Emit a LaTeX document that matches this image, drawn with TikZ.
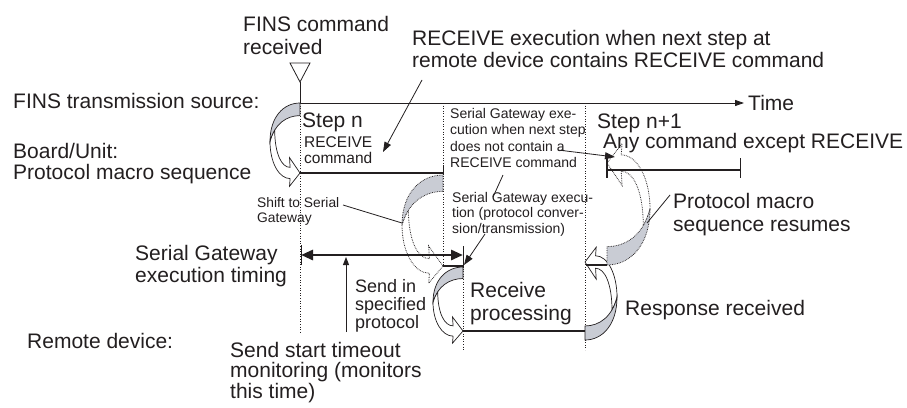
\documentclass[tikz,border=0pt]{standalone}
\usepackage{fontspec}
\setmainfont{Liberation Sans}
\usetikzlibrary{arrows.meta}
\definecolor{ribbongray}{RGB}{201,204,212}
\definecolor{ink}{RGB}{35,31,32}
% ribbon-like curved block arrow in local frame: start at (0,0), bulge to x=-1, tip at (0,1)
\newcommand{\ribbonshape}[1]{%
  \path[ribbonline,#1,fill=white] (-1,0.55) .. controls (-1,0.85) and (-0.7,1.08) .. (-0.33,1.08)
     -- (-0.35,1.19) -- (0,1) -- (-0.35,0.78) -- (-0.33,0.92)
     .. controls (-0.62,0.92) and (-0.84,0.72) .. (-0.844,0.387)
     .. controls (-0.909,0.433) and (-0.9625,0.4875) .. (-1,0.55) -- cycle;
  \path[ribbonline,#1,fill=ribbongray] (0,0) .. controls (-0.55,0) and (-1,0.2) .. (-1,0.55)
     .. controls (-0.85,0.3) and (-0.45,0.18) .. (0,0.18) -- cycle;
}
\begin{document}
\begin{tikzpicture}[x=1pt,y=-1pt,
  txt/.style={inner sep=0pt, anchor=base west, align=left, text=ink},
  big/.style={txt, font=\fontsize{21}{22}\selectfont},
  mid/.style={txt, font=\fontsize{15.5}{16}\selectfont},
  small/.style={txt, font=\fontsize{14}{16.5}\selectfont},
  ribbonline/.style={draw=ink, line width=0.7pt},
  dotline/.style={densely dotted, line width=0.8pt},
  guide/.style={draw=ink, dotted, line width=0.6pt},
  thickline/.style={draw=ink, line width=2.6pt},
  leader/.style={draw=ink, line width=0.8pt},
  leadarrow/.style={leader, -{Triangle[length=10pt,width=7pt]}},
]
\fill[white] (0,0) rectangle (907,407);
\useasboundingbox (0,0) rectangle (907,407);

% coordinates
\coordinate (t0) at (300,103);
\coordinate (tend) at (744,103);
\coordinate (trA) at (290,63);
\coordinate (trB) at (310,63);
\coordinate (trC) at (300,82);

% dotted guides
\draw[guide] (300,103) -- (300,332);
\draw[guide] (443,103) -- (443,266);
\draw[guide] (463,266) -- (463,350);
\draw[guide] (585,103) -- (585,350);

% triangle marker and time axis
\draw[ink, line width=0.8pt, fill=white] (trA) -- (trB) -- (trC) -- cycle;
\draw[ink, line width=0.8pt] (trC) -- (t0);
\draw[ink, line width=0.9pt, -{Triangle[length=9pt,width=6pt]}] (t0) -- (tend);

% ribbon arrows
\begin{scope}[shift={(300,103)}, xscale=30, yscale=70]
  \ribbonshape{}
\end{scope}
\begin{scope}[shift={(443,175)}, xscale=41, yscale=91]
  \ribbonshape{dotline}
\end{scope}
\begin{scope}[shift={(463,267)}, xscale=30, yscale=64]
  \ribbonshape{}
\end{scope}
\begin{scope}[shift={(585,340)}, xscale=-32, yscale=-78]
  \ribbonshape{}
\end{scope}
\begin{scope}[shift={(607,265)}, xscale=-43, yscale=-102]
  \ribbonshape{dotline}
\end{scope}

% Board/Unit step n line
\coordinate (bl0) at (300,173);
\coordinate (bl1) at (443,173);
\draw[thickline] (bl0) -- (bl1);
\draw[ink, line width=1pt] (443,166) -- (443,175);

% Step n+1 line
\coordinate (sn0) at (607,170);
\coordinate (sn1) at (740,170);
\draw[ink, line width=1.6pt] (607,158) -- (607,178);
\draw[thickline] (sn0) -- (sn1);
\draw[ink, line width=1pt] (740,158) -- (740,178);

% Serial gateway execution timing double arrow
\coordinate (sg0) at (301,255);
\coordinate (sg1) at (463,255);
\draw[ink, line width=1pt] (301,245) -- (301,265);
\draw[ink, line width=1pt] (463,246) -- (463,268);
\draw[ink, line width=2.8pt, {Triangle[length=12pt,width=10pt]}-{Triangle[length=12pt,width=10pt]}] (sg0) -- (sg1);

% short serial lines
\draw[thickline] (443,266) -- (463,266);
\draw[thickline] (586,265) -- (607,265);

% remote device line
\coordinate (rd0) at (463,331);
\coordinate (rd1) at (585,331);
\draw[thickline] (rd0) -- (rd1);

% send start timeout arrow
\coordinate (va0) at (346,332);
\coordinate (va1) at (346,257);
\draw[ink, line width=1pt, -{Triangle[length=8pt,width=6pt]}] (va0) -- (va1);

% texts (anchor = baseline of the last line)
\node[big] (fins) at (243,54.5) {FINS command\\[1.5pt]received};
\node[big] (recexec) at (412,67) {RECEIVE execution when next step at\\remote device contains RECEIVE command};
\node[big] (src) at (13,108) {FINS transmission source:};
\node[big] (time) at (748,110) {Time};
\node[big] (stepn) at (302,127) {Step n};
\node[mid] (reccmd) at (304,163) {RECEIVE\\command};
\node[big, font=\fontsize{21}{21}\selectfont] (board) at (13,179) {Board/Unit:\\Protocol macro sequence};
\node[small] (note1) at (450,167.5) {Serial Gateway exe-\\cution when next step\\does not contain a\\RECEIVE command};
\node[big] (stepn1) at (597,128) {Step n+1};
\node[big] (anycmd) at (603,148) {Any command except RECEIVE};
\node[small, font=\fontsize{13.8}{15}\selectfont] (shift) at (257,222) {Shift to Serial\\Gateway};
\node[small, font=\fontsize{14}{15.5}\selectfont] (note2) at (452,233) {Serial Gateway execu-\\tion (protocol conver-\\sion/transmission)};
\node[big] (timing) at (135,282) {Serial Gateway\\execution timing};
\node[txt, font=\fontsize{18}{18}\selectfont] (sendin) at (355,328) {Send in\\specified\\protocol};
\node[big, font=\fontsize{21}{23}\selectfont] (recproc) at (470,320) {Receive\\processing};
\node[big] (remote) at (27,348) {Remote device:};
\node[big, font=\fontsize{21}{20.5}\selectfont] (timeout) at (230,398) {Send start timeout\\monitoring (monitors\\this time)};
\node[big] (resp) at (625,315) {Response received};
\node[big, font=\fontsize{21}{23}\selectfont] (resumes) at (673,231) {Protocol macro\\sequence resumes};

% leaders
\coordinate (l1a) at (422,80);
\coordinate (l1b) at (383,152);
\draw[leadarrow] (l1a) -- (l1b);
\coordinate (l2a) at (558,150);
\coordinate (l2b) at (615,157);
\draw[leadarrow] (l2a) -- (l2b);
\coordinate (l3a) at (503,175);
\coordinate (l3b) at (493,197);
\draw[leader] (l3a) -- (l3b);
\coordinate (l4a) at (485,234);
\coordinate (l4b) at (464,265);
\draw[leadarrow] (l4a) -- (l4b);
\coordinate (l5a) at (343,205);
\coordinate (l5b) at (402,223);
\draw[leader] (l5a) -- (l5b);
\coordinate (l6a) at (670,195);
\coordinate (l6b) at (647,223);
\draw[leader] (l6a) -- (l6b);
\end{tikzpicture}
\end{document}
